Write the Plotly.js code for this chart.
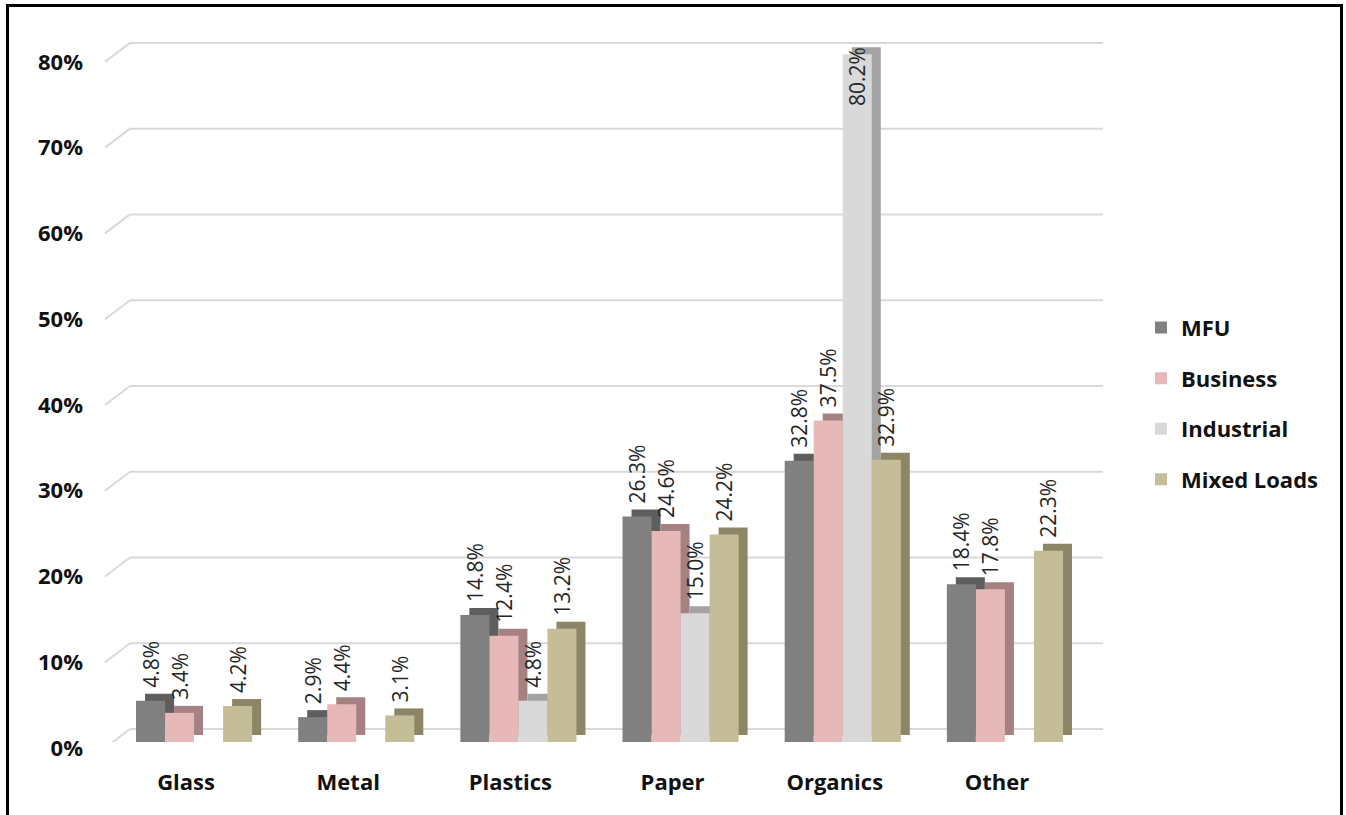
<!DOCTYPE html>
<html>
<head>
<meta charset="utf-8">
<script src="https://cdn.plot.ly/plotly-3.0.1.min.js"></script>
<style>
  html, body { margin: 0; padding: 0; background: #fff; overflow: hidden; }
  #chart { width: 1346px; height: 815px; }
  #frame { position: absolute; left: 6px; top: 4px; width: 1337px; height: 900px;
           box-sizing: border-box; border: 3px solid #000; pointer-events: none; }
</style>
</head>
<body>
<div id="chart"></div>
<div id="frame"></div>
<script>
// ---- data ----
const categories = ['Glass', 'Metal', 'Plastics', 'Paper', 'Organics', 'Other'];
const seriesNames = ['MFU', 'Business', 'Industrial', 'Mixed Loads'];
const mfu        = [4.8, 2.9, 14.8, 26.3, 32.8, 18.4];
const business   = [3.4, 4.4, 12.4, 24.6, 37.5, 17.8];
const industrial = [0,   0,   4.8,  15.0, 80.2, 0];
const mixedLoads = [4.2, 3.1, 13.2, 24.2, 32.9, 22.3];
const yTicks = [0, 10, 20, 30, 40, 50, 60, 70, 80];

// ---- styling ----
const frontColors = ['#808080', '#E6B8B7', '#D9D9D9', '#C4BD97'];
const sideColors  = ['#5E5E5E', '#A58281', '#A3A3A3', '#8C8666'];
const seriesValues = [mfu, business, industrial, mixedLoads];

const plotW = 973, plotH = 729;
const yMax = 85;
const pxPerUnit = plotH / yMax;
const pxPerCat = plotW / categories.length;
const depthX = 9, depthY = 7;   // extrusion of the bar boxes (px)
const labelLift = 10;           // gap between bar front top and its label (px)
const labelRoom = 62 / pxPerUnit; // room a rotated label needs above its bar

const traces = [];
// side / top faces (behind, shifted by the depth)
seriesValues.forEach((vals, i) => {
  traces.push({
    type: 'bar', x: categories, y: vals, name: seriesNames[i],
    xaxis: 'x', yaxis: 'y', showlegend: false, hoverinfo: 'skip',
    marker: { color: sideColors[i] }
  });
});
// front faces
seriesValues.forEach((vals, i) => {
  traces.push({
    type: 'bar', x: categories, y: vals, name: seriesNames[i],
    xaxis: 'x2', yaxis: 'y2', legendgroup: seriesNames[i],
    marker: { color: frontColors[i] }
  });
});
// transparent carriers for the value labels (lifted above the box tops)
const labelFont = { family: 'Open Sans, sans-serif', size: 21, color: '#262626' };
seriesValues.forEach((vals, i) => {
  traces.push({
    type: 'bar', x: categories, y: vals, name: seriesNames[i],
    xaxis: 'x3', yaxis: 'y3', showlegend: false, hoverinfo: 'skip',
    marker: { color: 'rgba(0,0,0,0)' },
    text: vals.map(v => v > 0 ? v.toFixed(1) + '%' : ''),
    textposition: vals.map(v => v + labelRoom > yMax ? 'inside' : 'outside'),
    insidetextanchor: 'end',
    textangle: -90, cliponaxis: false, constraintext: 'none',
    textfont: labelFont, insidetextfont: labelFont, outsidetextfont: labelFont
  });
});

// back-wall gridlines with the 3D slant on the left
const shapes = [];
const backDx = 17, frontDx = -8, backUp = 6, frontDown = 13;
yTicks.forEach(v => {
  shapes.push({
    type: 'line', layer: 'below', xref: 'paper', yref: 'y', ysizemode: 'pixel', yanchor: v,
    x0: backDx / plotW, x1: 1 + backDx / plotW, y0: backUp, y1: backUp,
    line: { color: '#D9D9D9', width: 2 }
  });
  shapes.push({
    type: 'line', layer: 'below', xref: 'paper', yref: 'y', ysizemode: 'pixel', yanchor: v,
    x0: frontDx / plotW, x1: backDx / plotW, y0: -frontDown, y1: backUp,
    line: { color: '#D9D9D9', width: 2 }
  });
});

const axisFont = { family: 'Open Sans, sans-serif', size: 22, color: '#111', weight: 'bold' };
const hiddenAxis = { showgrid: false, zeroline: false, showline: false, showticklabels: false };
const layout = {
  width: 1346, height: 815,
  margin: { l: 113, r: 1346 - 113 - plotW, t: 13, b: 815 - 13 - plotH },
  paper_bgcolor: '#fff', plot_bgcolor: 'rgba(0,0,0,0)',
  barmode: 'group', bargap: 0.284, bargroupgap: 0,
  showlegend: true,
  legend: {
    x: (1141 - 113) / plotW, xanchor: 'left', y: 0.464, yanchor: 'middle',
    font: { family: 'Open Sans, sans-serif', size: 22, color: '#111', weight: 'bold' },
    tracegroupgap: 19, traceorder: 'grouped', bgcolor: 'rgba(0,0,0,0)'
  },
  xaxis: {
    type: 'category', range: [-0.5 - depthX / pxPerCat, categories.length - 0.5 - depthX / pxPerCat],
    showgrid: false, zeroline: false, showline: false, ticks: '',
    tickfont: axisFont, ticklabelshift: -(depthX + 8), ticklabelstandoff: 25
  },
  yaxis: {
    range: [-depthY / pxPerUnit, yMax - depthY / pxPerUnit],
    tickvals: yTicks, ticktext: yTicks.map(v => v + '%'),
    showgrid: false, zeroline: false, showline: false, ticks: '',
    tickfont: axisFont, ticklabelshift: 13, ticklabelstandoff: 29
  },
  xaxis2: Object.assign({ type: 'category', overlaying: 'x', range: [-0.5, categories.length - 0.5] }, hiddenAxis),
  yaxis2: Object.assign({ overlaying: 'y', range: [0, yMax] }, hiddenAxis),
  xaxis3: Object.assign({ type: 'category', overlaying: 'x', range: [-0.5, categories.length - 0.5] }, hiddenAxis),
  yaxis3: Object.assign({ overlaying: 'y', range: [-labelLift / pxPerUnit, yMax - labelLift / pxPerUnit] }, hiddenAxis),
  shapes: shapes
};

Plotly.newPlot('chart', traces, layout, { displayModeBar: false, staticPlot: true });
</script>
</body>
</html>
